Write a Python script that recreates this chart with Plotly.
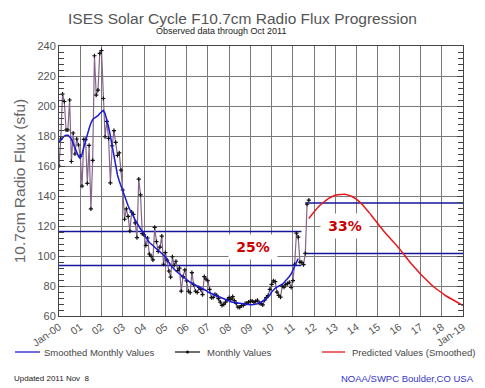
import plotly.graph_objects as go

# ---------------- data ----------------
YEAR_TICKS = list(range(0, 20))
YEAR_LABELS = ["Jan-00"] + ["%02d" % i for i in range(1, 19)] + ["Jan-19"]

monthly_values = [
    # 2000
    160, 178, 208, 203, 184, 184, 204, 163, 182, 168, 178, 174,
    # 2001
    166.6, 146.6, 177.7, 177.6, 148.4, 173.7, 131.4, 163.7, 233.5, 207.3, 210.6, 235.1,
    # 2002
    237, 205.0, 179.5, 189.8, 178.4, 148.7, 173.5, 183.6, 175.8, 167.0, 168.7, 157.2,
    # 2003
    144.0, 124.5, 131.4, 126.4, 116.6, 129.3, 127.7, 122.1, 112.2, 151.3, 140.8, 114.9,
    # 2004
    114.1, 107.0, 112.0, 101.2, 99.8, 97.4, 119.1, 109.6, 103.1, 105.9, 113.2, 94.5,
    # 2005
    102.3, 97.2, 90.0, 85.9, 99.5, 93.7, 96.5, 90.3, 91.9, 76.6, 86.3, 90.8,
    # 2006
    83.4, 76.5, 75.5, 88.9, 80.9, 76.5, 75.8, 79.0, 77.8, 74.2, 86.3, 84.5,
    # 2007
    83.5, 77.8, 72.3, 72.4, 74.4, 73.7, 71.6, 69.2, 67.1, 67.7, 69.3, 71.0,
    # 2008
    72.2, 71.1, 72.9, 70.2, 68.4, 65.9, 65.7, 66.9, 67.1, 68.3, 68.6, 69.2,
    # 2009
    69.8, 70.0, 69.2, 69.7, 70.5, 68.6, 68.2, 67.4, 70.5, 72.3, 73.6, 77.8,
    # 2010
    81.1, 83.4, 82.9, 75.9, 73.8, 72.6, 79.9, 79.2, 81.1, 81.6, 82.5, 79.0,
    # 2011
    83.6, 94.5, 115.3, 112.6, 95.9, 95.8, 94.2, 101.7, 134.5, 137.2,
]

smoothed_values = [
    # 2000
    176, 177.5, 179, 180, 180.5, 180.5, 179.5, 178, 175, 172, 169, 166.5,
    # 2001
    165, 168, 172.5, 177, 181, 185, 188.5, 191, 192, 192.5, 193.5, 195,
    # 2002
    196, 197, 195, 191, 186, 180, 173, 166, 160, 154, 150, 146.5,
    # 2003
    144, 140, 136.5, 133.5, 131, 129, 126.5, 124, 122, 119.5, 118, 116.5,
    # 2004
    115, 112.5, 110.5, 109, 108, 107, 106, 105, 104, 103, 102, 101,
    # 2005
    99.5, 97.5, 95.5, 94, 92.5, 91, 90, 89, 88, 87, 86, 85,
    # 2006
    84, 83, 82.5, 82, 81, 80.5, 80, 79.5, 79, 78.5, 78, 77,
    # 2007
    76, 75.5, 75, 74, 73.5, 73, 72.5, 72, 71.5, 71, 70.5, 70,
    # 2008
    69.8, 69.5, 69.2, 69, 68.7, 68.5, 68.3, 68.1, 67.9, 67.8, 67.8, 67.8,
    # 2009
    67.5, 67.5, 67.6, 67.8, 68.2, 68.7, 69.2, 69.8, 70.5, 71.5, 72.5, 74,
    # 2010
    76, 77.5, 78.5, 79.2, 79.8, 80.4, 81.2, 82.3, 83.5, 84.8, 86.3, 88,
    # 2011
    90.3, 92.7, 95.3, 98.3,
]

predicted_years = [11.75, 12.0, 12.25, 12.5, 12.75, 13.0, 13.25, 13.5, 13.75, 14.0,
                   14.25, 14.5, 14.75, 15.0, 15.25, 15.5, 15.75, 16.0, 16.25, 16.5,
                   16.75, 17.0, 17.25, 17.5, 17.75, 18.0, 18.25, 18.5, 18.75, 19.0]
predicted_values = [125, 129.5, 133.5, 136.5, 139, 140.5, 141, 141, 139.8, 137.8,
                    134.5, 130.3, 126, 121.5, 117, 113, 109, 105, 100.5, 96,
                    92, 88, 84.5, 81, 78, 75.5, 73, 71, 69, 67]

# reference levels (left pair: 25 %, right pair: 33 %)
left_levels = [116.3, 93.6]
left_span = [0, 11.4]
right_levels = [135.3, 101.6]
right_span = [11.58, 19]

# ---------------- figure ----------------
mx = [i / 12 for i in range(len(monthly_values))]
sx = [i / 12 for i in range(len(smoothed_values))]

fig = go.Figure()

REF_BLUE = "#16169a"
for lv in left_levels:
    fig.add_trace(go.Scatter(x=left_span, y=[lv, lv], mode="lines",
                             line=dict(color=REF_BLUE, width=1.5), hoverinfo="skip"))
for lv in right_levels:
    fig.add_trace(go.Scatter(x=right_span, y=[lv, lv], mode="lines",
                             line=dict(color=REF_BLUE, width=1.5), hoverinfo="skip"))

fig.add_trace(go.Scatter(x=mx, y=monthly_values, mode="lines+markers",
                         line=dict(color="#85658a", width=1.2),
                         marker=dict(symbol="cross-thin", size=3,
                                     line=dict(color="#111111", width=1.2))))
fig.add_trace(go.Scatter(x=sx, y=smoothed_values, mode="lines",
                         line=dict(color="#1a1ad8", width=1.5)))
fig.add_trace(go.Scatter(x=predicted_years, y=predicted_values, mode="lines",
                         line=dict(color="#e8161a", width=1.5, shape="spline")))

FONT = "Liberation Sans"
GRID = "#7a7a7a"

fig.update_layout(
    width=485, height=388,
    margin=dict(l=59, r=22, t=46, b=72, autoexpand=False),
    paper_bgcolor="white", plot_bgcolor="white",
    showlegend=False,
    font=dict(family=FONT, color="#555555"),
)

fig.update_xaxes(
    range=[0, 19], tickvals=YEAR_TICKS, ticktext=YEAR_LABELS,
    tickangle=-35, tickfont=dict(size=10.5, color="#555555"),
    showgrid=True, gridcolor=GRID, gridwidth=1,
    showline=True, linecolor="#444444", linewidth=1, mirror=True,
    ticks="", zeroline=False, automargin=False,
)
fig.update_yaxes(
    range=[60, 240], tickvals=list(range(60, 241, 20)),
    tickfont=dict(size=11, color="#555555"),
    showgrid=True, gridcolor=GRID, gridwidth=1,
    showline=True, linecolor="#444444", linewidth=1, mirror="allticks",
    ticks="inside", ticklen=6, tickcolor="#444444",
    minor=dict(dtick=4, tick0=60, ticks="inside", ticklen=5, tickcolor="#444444", showgrid=False),
    zeroline=False, automargin=False,
    title=dict(text="10.7cm Radio Flux (sfu)", font=dict(size=15.5, color="#666666"), standoff=8),
)

ann = []
# percentage labels
ann.append(dict(x=9.13, y=106, xref="x", yref="y", text="<b>25%</b>", showarrow=False,
                font=dict(size=14, color="#cc0000", family="DejaVu Sans"), bgcolor="white",
                width=46, height=22))
ann.append(dict(x=13.45, y=119.8, xref="x", yref="y", text="<b>33%</b>", showarrow=False,
                font=dict(size=14, color="#cc0000", family="DejaVu Sans"), bgcolor="white",
                width=46, height=22))


def px(xp):
    return (xp - 59) / 404


def py(yp):
    return (316 - yp) / 270


# title
ann.append(dict(x=px(242), y=py(18), xref="paper", yref="paper", xanchor="center", yanchor="middle",
                text="ISES Solar Cycle F10.7cm Radio Flux Progression", showarrow=False,
                font=dict(size=15.5, color="#555555")))
ann.append(dict(x=px(221), y=py(31), xref="paper", yref="paper", xanchor="center", yanchor="middle",
                text="Observed data through Oct 2011", showarrow=False,
                font=dict(size=9, color="#222222")))

leg_y = py(352)
ann.append(dict(x=px(42), y=leg_y, xref="paper", yref="paper", xanchor="left", yanchor="middle",
                text="Smoothed Monthly Values", showarrow=False, font=dict(size=9.5, color="#444444")))
ann.append(dict(x=px(205), y=leg_y, xref="paper", yref="paper", xanchor="left", yanchor="middle",
                text="Monthly Values", showarrow=False, font=dict(size=9.5, color="#444444")))
ann.append(dict(x=px(350), y=leg_y, xref="paper", yref="paper", xanchor="left", yanchor="middle",
                text="Predicted Values (Smoothed)", showarrow=False, font=dict(size=9.5, color="#444444")))
ann.append(dict(x=px(12), y=py(378), xref="paper", yref="paper", xanchor="left", yanchor="middle",
                text="Updated 2011 Nov  8", showarrow=False, font=dict(size=8, color="#222222")))
ann.append(dict(x=px(476), y=py(378), xref="paper", yref="paper", xanchor="right", yanchor="middle",
                text="NOAA/SWPC Boulder,CO USA", showarrow=False, font=dict(size=9.5, color="#3333cc")))
fig.update_layout(annotations=ann)

shapes = [
    dict(type="line", xref="paper", yref="paper", x0=px(15), x1=px(40), y0=leg_y, y1=leg_y,
         line=dict(color="#2020d0", width=1.3)),
    dict(type="line", xref="paper", yref="paper", x0=px(175), x1=px(200), y0=leg_y, y1=leg_y,
         line=dict(color="#222222", width=1.3)),
    dict(type="circle", xref="paper", yref="paper", x0=px(186), x1=px(189), y0=py(353.5), y1=py(350.5),
         fillcolor="#111111", line=dict(color="#111111", width=0)),
    dict(type="line", xref="paper", yref="paper", x0=px(322), x1=px(345), y0=leg_y, y1=leg_y,
         line=dict(color="#e8161a", width=1.3)),
]
fig.update_layout(shapes=shapes)

fig.write_html("out.html",
               config={"displayModeBar": False},
               post_script="document.body.style.margin='0';document.body.style.padding='0';")
